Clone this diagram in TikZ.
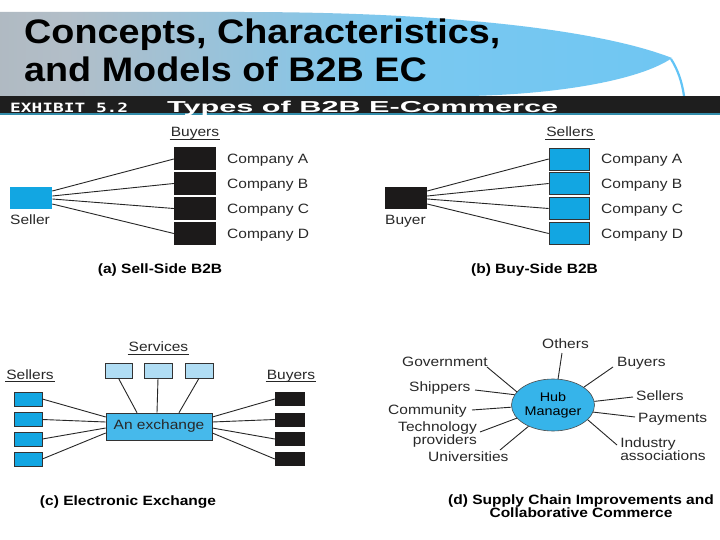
\documentclass[tikz,border=0pt]{standalone}
\usepackage{fontspec}
\setmainfont{Liberation Sans}
\newfontfamily\lf[FakeStretch=1.15]{Liberation Sans}
\newfontfamily\tf[FakeStretch=1.11]{Liberation Sans Bold}
\newfontfamily\hv{Liberation Sans Bold}
\newfontfamily\mf{DejaVu Sans Mono Bold}
\usetikzlibrary{shapes.geometric}
\definecolor{cblue}{RGB}{18,166,226}
\definecolor{lblue}{RGB}{176,221,244}
\definecolor{exblue}{RGB}{70,185,235}
\definecolor{hubblue}{RGB}{54,180,234}
\definecolor{boxblack}{RGB}{28,26,26}
\definecolor{txt}{RGB}{40,40,40}
\definecolor{hg1}{RGB}{166,166,166}
\definecolor{hg2}{RGB}{178,190,200}
\definecolor{hg3}{RGB}{122,200,240}
\definecolor{hg4}{RGB}{98,196,246}
\definecolor{swoosh}{RGB}{98,196,246}
\definecolor{bandc}{RGB}{30,30,30}
\definecolor{bandline}{RGB}{50,140,170}
\pgfdeclarehorizontalshading{hdr}{100bp}{color(0bp)=(hg1); color(30bp)=(hg2); color(55bp)=(hg3); color(100bp)=(hg4)}
\begin{document}
\begin{tikzpicture}[x=1pt,y=-1pt,
  lab/.style={font=\lf\fontsize{13.5}{13}\selectfont, text=txt, inner sep=0pt},
  hlab/.style={font=\lf\fontsize{13.5}{13}\selectfont, text=txt, inner sep=1pt},
  captxt/.style={font=\lf\bfseries\fontsize{13.5}{13}\selectfont, text=black, inner sep=0pt},
  ttl/.style={font=\tf\fontsize{34}{34}\selectfont, text=black, inner sep=0pt, anchor=base west},
  bkbox/.style={fill=boxblack, minimum width=42pt, minimum height=23pt, inner sep=0pt},
  bluebox/.style={fill=cblue, draw=black!80, line width=0.6pt, minimum width=40pt, minimum height=22pt, inner sep=0pt},
  sbox/.style={fill=cblue, draw=black!80, line width=0.6pt, minimum width=28pt, minimum height=14pt, inner sep=0pt},
  bbox/.style={fill=boxblack, minimum width=30pt, minimum height=14pt, inner sep=0pt},
  svbox/.style={fill=lblue, draw=black!80, line width=0.6pt, minimum width=27pt, minimum height=15pt, inner sep=0pt},
  ln/.style={draw=black!85, line width=0.9pt},
  uline/.style={draw=black!85, line width=0.8pt}]
\useasboundingbox (0,0) rectangle (720,540);
\fill[white] (0,0) rectangle (720,540);
% header
\shade[shading=hdr] (0,12) -- (240,12) .. controls (450,12) and (600,30) .. (672,58)
  .. controls (640,80) and (560,94) .. (470,96) -- (0,96) -- cycle;
\draw[swoosh, line width=2.2pt] (671,59) .. controls (678,70) and (682,82) .. (684,96);
\fill[bandc] (0,96) rectangle (720,113.5);
\fill[bandline] (0,113.5) rectangle (720,115.5);
\node[ttl] (t1) at (24,44) {Concepts, Characteristics,};
\node[ttl] (t2) at (24,82) {and Models of B2B EC};
\node[anchor=base west, inner sep=0pt, text=white] (exh) at (10,113) {\resizebox{118pt}{9.5pt}{\mf EXHIBIT 5.2}};
\node[anchor=base west, inner sep=0pt, text=white] (typ) at (167,112.5) {\resizebox{391pt}{11.5pt}{\hv Types of B2B E-Commerce}};

% (a) sell-side
\node[bluebox, fill=cblue, draw=none, minimum width=42pt] (sa) at (31,198) {};
\node[lab, anchor=base west] (sal) at (10,225) {Seller};
\node[hlab, anchor=base] (abuy) at (195,136.5) {Buyers};
\draw[uline] ([yshift=-3pt]abuy.base west) -- ([yshift=-3pt]abuy.base east);
\node[bkbox] (aA) at (195,159) {};
\node[bkbox] (aB) at (195,183.5) {};
\node[bkbox] (aC) at (195,208.5) {};
\node[bkbox] (aD) at (195,233.5) {};
\node[lab, anchor=base west] (aAl) at (227,164) {Company A};
\node[lab, anchor=base west] (aBl) at (227,189) {Company B};
\node[lab, anchor=base west] (aCl) at (227,213.5) {Company C};
\node[lab, anchor=base west] (aDl) at (227,238) {Company D};
\draw[ln] ([yshift=7pt]sa.east) -- (aA.west);
\draw[ln] ([yshift=2pt]sa.east) -- (aB.west);
\draw[ln] ([yshift=-1pt]sa.east) -- (aC.west);
\draw[ln] ([yshift=-6pt]sa.east) -- (aD.west);
\node[captxt, anchor=base] (capa) at (160,273) {(a) Sell-Side B2B};

% (b) buy-side
\node[bkbox, minimum height=22pt] (bb) at (406,198) {};
\node[lab, anchor=base west] (bbl) at (385,225) {Buyer};
\node[hlab, anchor=base] (bsel) at (570,136.5) {Sellers};
\draw[uline] ([yshift=-3pt]bsel.base west) -- ([yshift=-3pt]bsel.base east);
\node[bluebox] (bA) at (569,159) {};
\node[bluebox] (bB) at (569,183.5) {};
\node[bluebox] (bC) at (569,208.5) {};
\node[bluebox] (bD) at (569,233.5) {};
\node[lab, anchor=base west] (bAl) at (601,164) {Company A};
\node[lab, anchor=base west] (bBl) at (601,189) {Company B};
\node[lab, anchor=base west] (bCl) at (601,213.5) {Company C};
\node[lab, anchor=base west] (bDl) at (601,238) {Company D};
\draw[ln] ([yshift=7pt]bb.east) -- (bA.west);
\draw[ln] ([yshift=2pt]bb.east) -- (bB.west);
\draw[ln] ([yshift=-1pt]bb.east) -- (bC.west);
\draw[ln] ([yshift=-6pt]bb.east) -- (bD.west);
\node[captxt, anchor=base] (capb) at (534.5,273) {(b) Buy-Side B2B};

% (c) exchange
\node[hlab, anchor=base] (csv) at (158.5,351.5) {Services};
\draw[uline] ([yshift=-2.5pt]csv.base west) -- ([yshift=-2.5pt]csv.base east);
\node[hlab, anchor=base] (csel) at (30,379) {Sellers};
\draw[uline] ([yshift=-2.5pt]csel.base west) -- ([yshift=-2.5pt]csel.base east);
\node[hlab, anchor=base] (cbuy) at (291,379) {Buyers};
\draw[uline] ([yshift=-2.5pt]cbuy.base west) -- ([yshift=-2.5pt]cbuy.base east);
\node[svbox] (sv1) at (118.5,370.5) {};
\node[svbox, minimum width=28pt] (sv2) at (158,370.5) {};
\node[svbox, minimum width=28pt] (sv3) at (199,370.5) {};
\node[fill=exblue, draw=black!80, line width=0.6pt, minimum width=106pt, minimum height=27pt, inner sep=0pt,
  font=\lf\fontsize{13.5}{13}\selectfont, text=txt] (ex) at (159,426.5) {An exchange};
\node[sbox] (cs1) at (28,399) {};
\node[sbox] (cs2) at (28,419.5) {};
\node[sbox] (cs3) at (28,439) {};
\node[sbox] (cs4) at (28,459) {};
\node[bbox] (cb1) at (290,399) {};
\node[bbox] (cb2) at (290,419.5) {};
\node[bbox] (cb3) at (290,439) {};
\node[bbox] (cb4) at (290,459) {};
\draw[ln] (cs1.east) -- ([yshift=9.5pt]ex.west);
\draw[ln] (cs2.east) -- ([yshift=4.5pt]ex.west);
\draw[ln] (cs3.east) -- ([yshift=-1.5pt]ex.west);
\draw[ln] (cs4.east) -- ([yshift=-6.5pt]ex.west);
\draw[ln] (cb1.west) -- ([yshift=9.5pt]ex.east);
\draw[ln] (cb2.west) -- ([yshift=4.5pt]ex.east);
\draw[ln] (cb3.west) -- ([yshift=-1.5pt]ex.east);
\draw[ln] (cb4.west) -- ([yshift=-6.5pt]ex.east);
\draw[ln] (sv1.south) -- ([xshift=-22pt]ex.north);
\draw[ln] (sv2.south) -- ([xshift=-2pt]ex.north);
\draw[ln] (sv3.south) -- ([xshift=20pt]ex.north);
\node[captxt, anchor=base] (capc) at (128,505) {(c) Electronic Exchange};

% (d) hub
\node[ellipse, fill=hubblue, draw=black!70, line width=0.6pt, minimum width=83pt, minimum height=52pt, inner sep=0pt,
  align=center, font=\lf\fontsize{12.5}{14}\selectfont, text=black] (hub) at (553,405) {Hub\\Manager};
\node[lab, anchor=base west] (oth) at (542,348.5) {Others};
\node[lab, anchor=base west] (gov) at (402,366.5) {Government};
\node[lab, anchor=base west] (shi) at (409,391.5) {Shippers};
\node[lab, anchor=base west] (com) at (388,414.5) {Community};
\node[lab, align=right] (tec) at (437.5,435) {Technology\\providers};
\node[lab, anchor=base west] (uni) at (428,461.5) {Universities};
\node[lab, anchor=base west] (buy) at (617,366.5) {Buyers};
\node[lab, anchor=base west] (sel) at (636,400.5) {Sellers};
\node[lab, anchor=base west] (pay) at (638,422.5) {Payments};
\node[lab, align=left] (ind) at (663,449.5) {Industry\\associations};
\coordinate (othE) at (562,353);
\coordinate (govE) at (487,367);
\coordinate (shiE) at (475,390);
\coordinate (comE) at (472,410);
\coordinate (tecE) at (480,432);
\coordinate (uniE) at (500,450);
\coordinate (buyE) at (613,367);
\coordinate (selE) at (633,397);
\coordinate (payE) at (635,417);
\coordinate (indE) at (617,445);
\draw[ln] (othE) -- (hub.79);
\draw[ln] (govE) -- (hub.160);
\draw[ln] (shiE) -- (hub.165);
\draw[ln] (comE) -- (hub.183);
\draw[ln] (tecE) -- (hub.200);
\draw[ln] (uniE) -- (hub.221);
\draw[ln] (buyE) -- (hub.30);
\draw[ln] (selE) -- (hub.5);
\draw[ln] (payE) -- (hub.350);
\draw[ln] (indE) -- (hub.337);
\node[captxt, anchor=base] (capd) at (581,504) {(d) Supply Chain Improvements and};
\node[captxt, anchor=base] (capd2) at (581,517.5) {Collaborative Commerce};
\end{tikzpicture}
\end{document}
